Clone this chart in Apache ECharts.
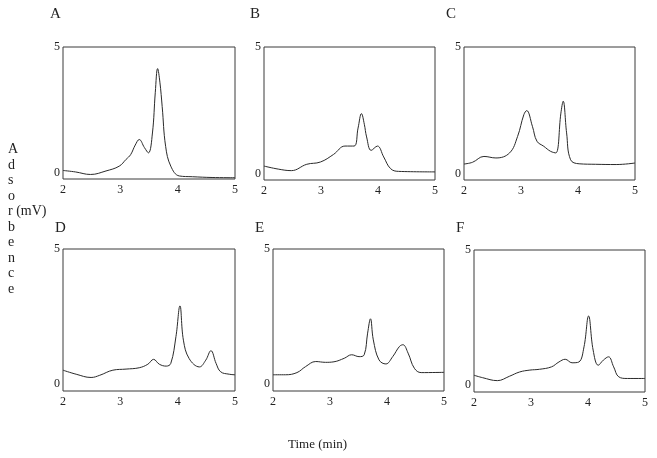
<!DOCTYPE html>
<html>
<head>
<meta charset="utf-8">
<script src="https://cdn.jsdelivr.net/npm/echarts@6/dist/echarts.min.js"></script>
<style>
  html,body {margin:0;padding:0;background:#fff;}
  #echart {width:657px;height:458px;}
</style>
</head>
<body>
<div id="echart"></div>
<script>
// panel letters and axis ticks
var panelNames = ['A', 'B', 'C', 'D', 'E', 'F'];
var xTicks = [2, 3, 4, 5];
var yTicks = [0, 5];

// chromatograms, [time (min), absorbance (mV)]
var traceA = [[2.0,0.09],[2.22,0.03],[2.48,-0.07],[2.75,0.07],[2.98,0.26],[3.1,0.53],[3.18,0.72],[3.26,1.1],[3.33,1.32],[3.42,1.0],[3.49,0.79],[3.56,1.58],[3.61,3.2],[3.65,4.14],[3.69,3.6],[3.73,2.63],[3.79,1.05],[3.88,0.26],[4.03,-0.13],[4.26,-0.16],[4.6,-0.19],[5.0,-0.2]];
var traceB = [[2.0,0.3],[2.25,0.18],[2.48,0.12],[2.75,0.37],[2.99,0.46],[3.22,0.76],[3.42,1.09],[3.58,1.09],[3.65,1.8],[3.71,2.37],[3.76,1.95],[3.8,1.45],[3.88,0.92],[3.99,1.09],[4.1,0.66],[4.22,0.2],[4.36,0.09],[5.0,0.07]];
var traceC = [[2.0,0.38],[2.15,0.45],[2.35,0.68],[2.56,0.62],[2.8,0.82],[2.94,1.47],[3.05,2.33],[3.1,2.49],[3.2,1.87],[3.28,1.28],[3.4,1.08],[3.52,0.88],[3.61,0.82],[3.7,2.39],[3.74,2.86],[3.8,1.61],[3.87,0.55],[4.02,0.39],[4.31,0.37],[4.67,0.36],[5.0,0.42]];
var traceD = [[2.0,0.52],[2.23,0.37],[2.49,0.25],[2.64,0.33],[2.87,0.52],[3.1,0.56],[3.33,0.61],[3.48,0.74],[3.58,0.92],[3.68,0.74],[3.8,0.67],[3.88,0.77],[3.97,1.76],[4.04,2.9],[4.1,1.63],[4.2,0.95],[4.38,0.64],[4.49,0.89],[4.58,1.24],[4.67,0.77],[4.75,0.46],[4.9,0.37],[5.0,0.35]];
var traceE = [[2.0,0.35],[2.22,0.35],[2.42,0.43],[2.57,0.65],[2.75,0.84],[2.92,0.81],[3.07,0.83],[3.25,0.96],[3.38,1.09],[3.51,1.02],[3.6,1.09],[3.66,1.89],[3.71,2.42],[3.76,1.64],[3.86,0.9],[3.98,0.75],[4.1,1.02],[4.22,1.4],[4.28,1.46],[4.37,1.15],[4.48,0.59],[4.6,0.43],[5.0,0.44]];
var traceF = [[2.0,0.37],[2.15,0.28],[2.41,0.17],[2.62,0.33],[2.8,0.49],[2.98,0.56],[3.15,0.59],[3.36,0.68],[3.49,0.86],[3.6,0.96],[3.72,0.83],[3.84,0.86],[3.93,1.42],[4.01,2.56],[4.09,1.3],[4.18,0.74],[4.27,0.93],[4.36,1.05],[4.45,0.68],[4.54,0.31],[4.69,0.25],[5.0,0.25]];

var traces = [traceA, traceB, traceC, traceD, traceE, traceF];

var boxes = [
  {left:63, top:47, width:172, height:132},
  {left:264, top:47, width:171, height:133},
  {left:464, top:47, width:171, height:133},
  {left:63, top:249, width:172, height:142},
  {left:273, top:249, width:171, height:142},
  {left:474, top:250, width:171, height:142}
];
var letterPos = [[50,7],[250,7],[446,7],[55,221],[255,221],[456,221]];

var font = 'Liberation Serif';
var myChart = echarts.init(document.getElementById('echart'));

var grid = [], xAxis = [], yAxis = [], series = [], graphic = [];
for (var i = 0; i < traces.length; i++) {
  grid.push({
    left: boxes[i].left, top: boxes[i].top, width: boxes[i].width, height: boxes[i].height,
    show: true, borderColor: '#3a3a3a', borderWidth: 1, backgroundColor: '#fff'
  });
  xAxis.push({
    type: 'value', gridIndex: i, min: 2, max: 5, interval: 1,
    axisLine: {show: false}, axisTick: {show: false}, splitLine: {show: false},
    axisLabel: {customValues: xTicks, margin: 5, color: '#222', fontFamily: font, fontSize: 12}
  });
  yAxis.push({
    type: 'value', gridIndex: i, min: -0.25, max: 5,
    axisLine: {show: false}, axisTick: {show: false}, splitLine: {show: false},
    axisLabel: {customValues: yTicks, margin: 3, color: '#222', fontFamily: font, fontSize: 12}
  });
  series.push({
    type: 'line', xAxisIndex: i, yAxisIndex: i, data: traces[i],
    showSymbol: false, smooth: 0.4,
    lineStyle: {color: '#2a2a2a', width: 1}
  });
  graphic.push({
    type: 'text', left: letterPos[i][0], top: letterPos[i][1],
    style: {text: panelNames[i], font: '15px ' + font, fill: '#222'}
  });
}

// stacked y title and x title
graphic.push({
  type: 'text', left: 8, top: 142,
  style: {
    text: 'A\nd\ns\no\nr (mV)\nb\ne\nn\nc\ne',
    font: '14px ' + font, fill: '#222', lineHeight: 15.5, align: 'left'
  }
});
graphic.push({
  type: 'text', left: 288, top: 438,
  style: {text: 'Time (min)', font: '13px ' + font, fill: '#222'}
});

myChart.setOption({
  animation: false,
  grid: grid,
  xAxis: xAxis,
  yAxis: yAxis,
  series: series,
  graphic: graphic
});
</script>
</body>
</html>
